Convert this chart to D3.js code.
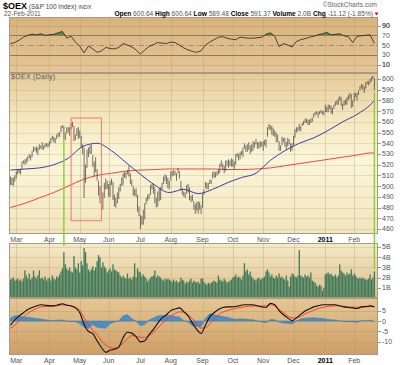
<!DOCTYPE html>
<html>
<head>
<meta charset="utf-8">
<title>$OEX daily</title>
<script src="https://cdnjs.cloudflare.com/ajax/libs/d3/7.8.5/d3.min.js"></script>
<style>
  body { margin: 0; background: #fff; }
  svg { display: block; font-family: "Liberation Sans", Arial, sans-serif; }
</style>
</head>
<body>
<script>

// sessions shown: 23-Feb-2010 .. 22-Feb-2011, NYSE holidays skipped
var startDay = "2010-02-23", endDay = "2011-02-22";
var holidays = ["2010-04-02","2010-05-31","2010-07-05","2010-09-06",
                "2010-11-25","2010-12-24","2011-01-17","2011-02-21"];
var monthLabels = ["Mar","Apr","May","Jun","Jul","Aug","Sep","Oct","Nov","Dec","2011","Feb"];

// daily highs / lows (one per session)
var highs = [509,508,508,510,
  514,515,516,516,523,524,525,526,528,530,529,533,537,536,537,536,539,538,541,538,540,540,540,
  542,545,547,546,545,548,550,550,556,557,556,550,555,555,555,559,560,556,548,554,555,
  552,547,539,536,520,534,536,538,539,529,523,527,516,505,500,501,494,503,507,505,
  502,505,507,504,492,489,494,499,502,508,512,513,513,515,519,512,506,500,497,498,492,481,
  473,472,478,484,489,492,493,501,502,502,499,489,495,498,499,503,509,511,510,508,505,
  514,514,515,514,512,517,514,505,498,495,494,501,502,499,491,492,486,483,485,486,485,482,
  493,497,504,503,503,506,506,513,514,513,514,516,521,524,521,519,524,524,525,524,526,
  525,523,530,531,530,532,533,536,540,538,539,541,538,539,542,541,544,541,541,542,541,
  542,543,544,555,558,557,556,554,552,550,548,542,538,546,545,545,541,545,544,540,540,
  547,553,555,555,558,556,559,561,563,563,562,562,563,564,568,569,570,569,570,571,570,570,
  576,574,576,576,575,573,576,579,580,582,584,583,577,580,581,583,585,587,586,580,
  587,587,587,589,593,595,595,593,597,598,598,600,602,603,600.64];
var lows = [501,501,500,504,
  507,511,512,511,516,521,520,521,523,526,524,527,532,533,531,529,534,535,534,534,536,537,536,
  537,540,543,541,540,544,546,546,550,554,544,543,549,550,547,553,555,542,543,547,544,
  545,536,530,489,503,517,527,530,530,518,509,513,505,491,484,492,478,489,497,497,
  490,490,501,487,481,480,484,488,495,500,501,508,507,511,509,502,500,491,491,490,476,472,
  460,464,464,469,483,486,488,492,497,493,484,480,481,486,487,497,502,505,502,498,497,
  505,509,510,510,505,512,507,496,492,490,489,493,494,487,485,486,478,474,477,474,478,474,
  480,492,498,497,497,502,502,507,508,508,510,511,512,518,515,512,514,519,517,519,518,
  518,516,520,527,524,525,529,527,535,532,532,534,530,532,533,536,539,535,535,536,537,
  533,538,536,546,553,552,548,547,546,541,541,533,533,538,541,537,534,537,539,532,533,
  538,545,550,551,552,551,556,557,559,559,557,557,559,560,564,566,567,564,567,568,567,566,
  569,569,569,572,568,567,572,575,576,576,580,575,571,575,576,576,580,582,573,574,
  579,583,580,585,589,591,590,587,591,595,594,596,598,600,589.48];

// daily volume, billions
var volume = [1.8,1.9,2.0,1.7,
  1.8,1.9,1.7,1.8,1.6,1.9,2.7,2.2,1.9,2.4,1.8,2.0,2.7,2.1,1.9,2.2,2.7,1.9,2.0,1.8,2.1,1.7,1.9,
  2.0,1.7,2.2,1.9,1.8,2.1,2.0,2.3,2.6,2.9,4.5,3.3,2.9,2.7,3.0,2.6,2.5,4.1,3.0,2.8,3.4,
  2.5,3.6,3.2,4.9,4.5,3.4,2.8,2.6,2.8,3.1,2.7,3.0,3.6,4.2,4.0,3.0,3.5,3.1,2.9,2.5,
  2.7,2.9,2.6,3.3,2.8,2.7,2.6,2.5,2.2,2.0,2.2,2.0,1.9,2.4,1.9,2.0,1.8,2.1,3.4,2.0,2.9,2.6,
  2.5,2.1,2.3,2.1,1.9,1.6,1.8,2.0,2.1,2.2,2.7,2.0,2.2,2.1,2.0,1.8,1.7,1.9,1.8,1.9,1.8,
  1.7,1.6,1.8,1.6,1.7,1.5,1.6,2.0,1.8,1.7,1.4,1.6,1.5,1.7,1.9,1.5,1.7,1.6,1.5,1.6,1.4,1.9,
  1.9,1.6,1.4,1.3,1.5,1.4,1.5,1.6,1.7,1.6,1.5,2.2,1.8,1.7,1.6,1.9,1.7,1.5,1.6,1.7,1.8,
  2.0,2.1,2.3,2.0,2.1,2.0,1.8,2.2,3.4,2.6,2.8,2.3,2.6,2.1,1.9,1.8,1.7,1.9,2.0,1.8,1.9,
  2.0,2.1,2.6,2.8,2.5,2.1,2.3,2.0,1.9,2.2,2.0,2.4,2.0,2.1,1.9,1.8,2.2,1.7,1.1,2.1,2.4,
  2.3,2.1,2.0,2.2,4.7,2.2,2.1,2.0,2.3,2.1,2.2,2.0,2.5,1.7,1.6,1.5,1.2,1.1,1.3,1.2,0.7,1.0,
  2.3,2.4,2.5,2.3,2.4,2.2,2.1,2.3,2.0,2.2,3.3,2.7,2.5,2.4,2.2,2.5,2.3,2.4,2.8,2.2,
  2.4,2.2,2.0,1.9,2.0,1.9,2.0,1.9,1.8,1.8,1.9,2.3,1.8,2.0,2.6];

// moving averages, read every 10 sessions (last = final session)
var maStep = 10;
var ma50  = [515,516,517,520,526,537,540,533,522,511,501,494,497,493,497,503,508,512,524,533,540,545,552,560,567,577,580];
var ma200 = [480,484,489,494,500,506,510,512,514,515,515.5,516,516,516,516,515.5,515.5,516,517,519,521,523,525,527,529,531,531];

// indicators, read every 3 sessions
var indStep = 3;
var rsi = [53,55,60,66,70,72,71,73,70,71,
  72,75,78,64,68,56,47,34,48,42,
  35,38,45,43,42,45,53,50,46,40,
  31,40,47,51,55,54,53,56,55,50,
  44,40,37,35,38,50,56,61,66,67,
  64,62,61,66,65,64,64,65,66,72,
  75,68,47,53,50,46,57,61,63,66,
  68,71,73,76,71,72,73,69,67,55,
  68,69,70,71,53];
var macd = [-2,0.5,2.5,4,5.5,6.5,7.2,7.8,7.6,7.4,
  7.3,7.8,8.3,7.6,7.2,6.3,4.0,-1.5,-5.0,-6.0,
  -9.5,-12.7,-15,-14,-13.5,-12.5,-8,-5.4,-5.8,-7.5,
  -10,-9.5,-6.5,-4,-1,1.5,3,5,5.8,6.3,
  4.5,2.5,-1,-4,-6,-2,2,4,5.5,6.5,
  6.8,6.8,7.0,7.5,7.8,7.8,7.8,7.3,6.8,6.5,
  8.5,7.8,5,3,1.5,0.2,1.5,3.2,4.8,5.8,
  6.8,7.3,7.8,7.8,7.8,7.8,7.3,6.8,6.5,6.3,
  6.0,6.8,7.0,7.3,6.8];
var signal = [-3.4,-2,0,2,3.7,5,6,6.8,7.0,7.0,
  7.2,7.4,7.8,7.7,7.4,6.6,5.2,1.5,-1.5,-4.4,
  -6.5,-9.5,-11.5,-12.7,-13,-12.5,-10.5,-8.5,-7,-7.3,
  -7.8,-7.8,-7,-5.5,-3.4,-1.2,0.5,2.3,3.6,4.4,
  4.3,3.0,1.2,-1.5,-3.4,-3.2,-1.5,1.0,3.0,4.3,
  5.0,5.6,6.1,6.5,6.8,7.1,7.2,7.3,7.2,7.3,
  7.8,7.2,5.5,4.0,2.5,1.5,1.5,2.2,3.5,4.3,
  5.2,6.0,6.5,6.9,7.2,7.3,7.3,7.0,6.8,6.7,
  6.6,6.7,6.8,6.9,7.0];

// axis tick labels
var rsiTicks = [90,70,50,30,10];
var priceTicks = [460,470,480,490,500,510,520,530,540,550,560,570,580,590,600];
var volTicks = [1,2,3,4,5];
var macdTicks = [5,0,-5,-10];

// annotations drawn on the chart
var box = {from: "2010-04-23", to: "2010-05-24", top: 563.6, bottom: 467.7};
var marks = [{day: "2010-04-16", price: 545, vol: 5.1},
             {day: "2011-02-22", price: 587.5, vol: 2.85}];

// ---------- dates
var parse = d3.utcParse("%Y-%m-%d"), fmt = d3.utcFormat("%Y-%m-%d");
var dates = d3.utcDay.range(parse(startDay), d3.utcDay.offset(parse(endDay), 1))
  .filter(function(d) { var w = d.getUTCDay(); return w > 0 && w < 6 && holidays.indexOf(fmt(d)) < 0; });
var dayIndex = {};
dates.forEach(function(d, i) { dayIndex[fmt(d)] = i; });
var last = dates.length - 1;
var monthStarts = [];
dates.forEach(function(d, i) { if (i > 0 && d.getUTCMonth() != dates[i-1].getUTCMonth()) monthStarts.push(i); });

// ---------- layout
var W = 400, H = 365, L = 9, R = 378;
var svg = d3.select("body").append("svg").attr("width", W).attr("height", H);
var x = d3.scaleLinear().domain([-1, 254.5]).range([L, R]);

var rsiY = d3.scaleLinear().domain([-7.4, 107.5]).range([73, 17]);
var priceY = d3.scaleLinear().domain([455.3, 605.6]).range([234, 73]);
var volY = d3.scaleLinear().domain([0, 5.39]).range([298, 243]);
var macdY = d3.scaleLinear().domain([-16.3, 11.06]).range([355, 298]);

var defs = svg.append("defs");
function grad(id, stops) {
  var g = defs.append("linearGradient").attr("id", id).attr("x1", 0).attr("y1", 0).attr("x2", 0).attr("y2", 1);
  stops.forEach(function(s) { g.append("stop").attr("offset", s[0]).attr("stop-color", s[1]); });
}
grad("gRsi", [[0, "#d9b27c"], [1, "#e5c797"]]);
grad("gMain", [[0, "#e5cb99"], [0.3, "#f5e9c2"], [0.55, "#fbf5d9"], [1, "#f1e5bd"]]);
grad("gVol", [[0, "#f5ebc9"], [1, "#dcbd8a"]]);
grad("gMacd", [[0, "#e4c794"], [1, "#cf9e66"]]);

var panels = [
  {y: rsiY, top: 17, bot: 73, fill: "url(#gRsi)", id: "cRsi"},
  {y: priceY, top: 73, bot: 234, fill: "url(#gMain)", id: "cMain"},
  {y: volY, top: 243, bot: 298, fill: "url(#gVol)", id: "cVol"},
  {y: macdY, top: 298, bot: 355, fill: "url(#gMacd)", id: "cMacd"}
];
panels.forEach(function(p) {
  svg.append("rect").attr("x", L).attr("y", p.top).attr("width", R - L).attr("height", p.bot - p.top)
    .attr("fill", p.fill);
  defs.append("clipPath").attr("id", p.id).append("rect")
    .attr("x", L).attr("y", p.top).attr("width", R - L).attr("height", p.bot - p.top);
});

// month grid lines
panels.forEach(function(p) {
  svg.selectAll(null).data(monthStarts).enter().append("line")
    .attr("x1", function(i) { return Math.round(x(i)) + 0.5; })
    .attr("x2", function(i) { return Math.round(x(i)) + 0.5; })
    .attr("y1", p.top).attr("y2", p.bot)
    .attr("stroke", "#b49a70").attr("stroke-opacity", 0.35).attr("stroke-width", 1);
});

// horizontal grid + right labels
function hgrid(scale, ticks, fmtLabel, color, opacity) {
  svg.selectAll(null).data(ticks).enter().append("line")
    .attr("x1", L).attr("x2", R)
    .attr("y1", function(d) { return Math.round(scale(d)) + 0.5; })
    .attr("y2", function(d) { return Math.round(scale(d)) + 0.5; })
    .attr("stroke", color).attr("stroke-opacity", opacity);
  svg.selectAll(null).data(ticks).enter().append("line")
    .attr("x1", R).attr("x2", R + 3)
    .attr("y1", function(d) { return Math.round(scale(d)) + 0.5; })
    .attr("y2", function(d) { return Math.round(scale(d)) + 0.5; })
    .attr("stroke", "#999");
  svg.selectAll(null).data(ticks).enter().append("text")
    .attr("x", R + 4).attr("y", function(d) { return scale(d) + 2.5; })
    .attr("font-size", 7).attr("fill", "#555")
    .text(fmtLabel);
}
hgrid(rsiY, [90, 10], function(d) { return d; }, "#a88a5c", 0.35);
svg.selectAll(null).data(rsiTicks).enter().append("text")
  .attr("x", R + 4).attr("y", function(d) { return rsiY(d) + 2.5; })
  .attr("font-size", 7).attr("fill", "#555").text(function(d) { return d; });
[70, 30].forEach(function(v) {
  svg.append("line").attr("x1", L).attr("x2", R)
    .attr("y1", Math.round(rsiY(v)) + 0.5).attr("y2", Math.round(rsiY(v)) + 0.5)
    .attr("stroke", "#8c7a62").attr("stroke-width", 1);
});
svg.append("line").attr("x1", L).attr("x2", R)
  .attr("y1", Math.round(rsiY(50)) + 0.5).attr("y2", Math.round(rsiY(50)) + 0.5)
  .attr("stroke", "#9a8a78").attr("stroke-dasharray", "5,2,1,2");
hgrid(priceY, priceTicks, function(d) { return d; }, "#bfa77c", 0.3);
hgrid(volY, volTicks, function(d) { return d + "B"; }, "#bfa77c", 0.35);
hgrid(macdY, macdTicks, function(d) { return d; }, "#a88a5c", 0.3);

// ---------- RSI panel
var rsiIdx = function(k) { return Math.min(k * indStep, last); };
var rsiLine = d3.line().x(function(d, k) { return x(rsiIdx(k)); }).y(function(d) { return rsiY(d); });
var rsiArea = d3.area().x(function(d, k) { return x(rsiIdx(k)); })
  .y0(rsiY(70)).y1(function(d) { return rsiY(d); });
defs.append("clipPath").attr("id", "cOver70").append("rect")
  .attr("x", L).attr("y", 17).attr("width", R - L).attr("height", rsiY(70) - 17);
svg.append("path").datum(rsi).attr("d", rsiArea).attr("fill", "#5b8a45")
  .attr("clip-path", "url(#cOver70)");
svg.append("path").datum(rsi).attr("d", rsiLine).attr("fill", "none")
  .attr("stroke", "#222").attr("stroke-width", 0.8);

// ---------- price panel
var g = svg.append("g").attr("clip-path", "url(#cMain)");
var maLine = function(arr) {
  return d3.line().x(function(d, k) { return x(Math.min(k * maStep, last)); })
    .y(function(d) { return priceY(d); }).curve(d3.curveMonotoneX)(arr);
};
g.append("path").attr("d", maLine(ma200)).attr("fill", "none").attr("stroke", "#f0453c").attr("stroke-width", 1);
g.append("path").attr("d", maLine(ma50)).attr("fill", "none").attr("stroke", "#3c3ca8").attr("stroke-width", 1);
g.selectAll("line.bar").data(highs).enter().append("line").attr("class", "bar")
  .attr("x1", function(d, i) { return x(i); }).attr("x2", function(d, i) { return x(i); })
  .attr("y1", function(d) { return priceY(d); })
  .attr("y2", function(d, i) { return priceY(lows[i]); })
  .attr("stroke", "#333").attr("stroke-width", 1).attr("stroke-opacity", 0.68);
svg.append("text").attr("x", 11).attr("y", 79).attr("font-size", 7).attr("fill", "#555")
  .attr("letter-spacing", 0.3).text("$OEX (Daily)");

// ---------- volume panel
svg.append("g").attr("clip-path", "url(#cVol)").selectAll("rect").data(volume).enter().append("rect")
  .attr("x", function(d, i) { return x(i) - 0.65; })
  .attr("width", 1.3)
  .attr("y", function(d) { return volY(d); })
  .attr("height", function(d) { return volY(0) - volY(d); })
  .attr("fill", "#3f7a5a");

// ---------- MACD panel
var gm = svg.append("g").attr("clip-path", "url(#cMacd)");
var hist = macd.map(function(d, k) { return d - signal[k]; });
gm.append("path").datum(hist)
  .attr("d", d3.area().x(function(d, k) { return x(rsiIdx(k)); }).y0(macdY(0)).y1(function(d) { return macdY(d); }))
  .attr("fill", "#4a8fc6").attr("stroke", "#3677aa").attr("stroke-width", 0.5);
gm.append("path").datum(signal)
  .attr("d", d3.line().x(function(d, k) { return x(rsiIdx(k)); }).y(function(d) { return macdY(d); }).curve(d3.curveMonotoneX))
  .attr("fill", "none").attr("stroke", "#ff3b30").attr("stroke-width", 1);
gm.append("path").datum(macd)
  .attr("d", d3.line().x(function(d, k) { return x(rsiIdx(k)); }).y(function(d) { return macdY(d); }).curve(d3.curveMonotoneX))
  .attr("fill", "none").attr("stroke", "#111").attr("stroke-width", 1.1);

// ---------- panel borders
panels.forEach(function(p) {
  svg.append("rect").attr("x", L + 0.5).attr("y", p.top + 0.5).attr("width", R - L - 1).attr("height", p.bot - p.top - 1)
    .attr("fill", "none").attr("stroke", "#a89a86");
});

// ---------- date labels
[239.5, 360.5].forEach(function(yy) {
  svg.selectAll(null).data(monthStarts).enter().append("text")
    .attr("x", function(i) { return x(i); }).attr("y", yy + 2.5)
    .attr("text-anchor", "middle").attr("font-size", 7)
    .attr("font-weight", function(i, k) { return monthLabels[k] == "2011" ? "bold" : "normal"; })
    .attr("fill", function(i, k) { return monthLabels[k] == "2011" ? "#000" : "#555"; })
    .text(function(i, k) { return monthLabels[k]; });
});

// ---------- annotations
svg.append("rect")
  .attr("x", x(dayIndex[box.from])).attr("y", priceY(box.top))
  .attr("width", x(dayIndex[box.to]) - x(dayIndex[box.from]))
  .attr("height", priceY(box.bottom) - priceY(box.top))
  .attr("fill", "none").attr("stroke", "#f07a6a").attr("stroke-width", 1);
marks.forEach(function(m) {
  var xx = x(dayIndex[m.day]);
  svg.append("line").attr("x1", xx).attr("x2", xx)
    .attr("y1", priceY(m.price)).attr("y2", volY(m.vol))
    .attr("stroke", "#88d12c").attr("stroke-width", 1.4);
});

// ---------- header
var t = svg.append("text").attr("x", 3).attr("y", 8.5);
t.append("tspan").attr("font-size", 9).attr("font-weight", "bold").text("$OEX");
t.append("tspan").attr("font-size", 6.5).attr("fill", "#444").text(" (S&P 100 Index) ");
t.append("tspan").attr("font-size", 5.5).attr("fill", "#444").text("INDX");
svg.append("text").attr("x", 4).attr("y", 15.5).attr("font-size", 6.5).attr("fill", "#555").text("22-Feb-2011");
svg.append("text").attr("x", 377).attr("y", 7).attr("text-anchor", "end")
  .attr("font-size", 6.5).attr("fill", "#666").text("\u00a9StockCharts.com");

var hdr = [["Open", "600.64"], ["High", "600.64"], ["Low", "589.48"], ["Close", "591.37"],
           ["Volume", "2.0B"], ["Chg", "-11.12 (-1.85%)"]];
var ht = svg.append("text").attr("x", 373).attr("y", 15.5).attr("text-anchor", "end").attr("font-size", 6.6);
hdr.forEach(function(h, k) {
  ht.append("tspan").attr("font-weight", "bold").attr("fill", "#000").text((k ? " " : "") + h[0] + " ");
  ht.append("tspan").attr("fill", "#555").text(h[1]);
});
svg.append("path").attr("d", "M374.5,12.5 L378.5,12.5 L376.5,15.5 Z").attr("fill", "#d01010");

</script>
</body>
</html>
